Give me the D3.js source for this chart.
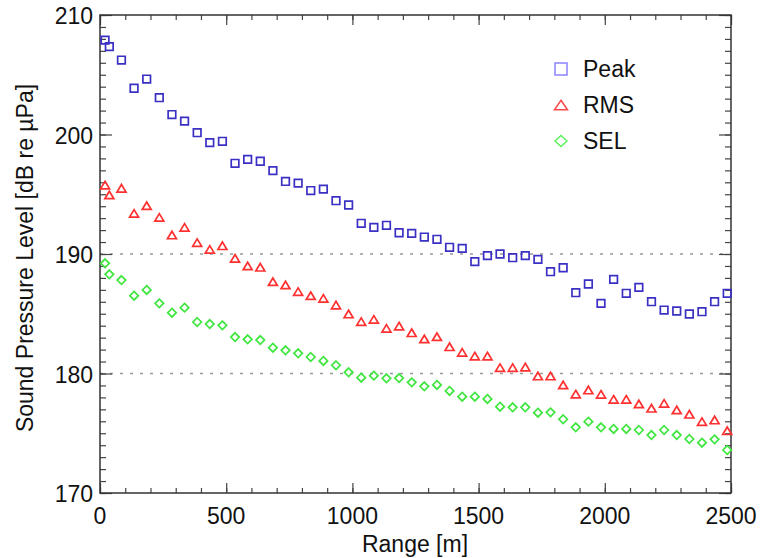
<!DOCTYPE html>
<html><head><meta charset="utf-8">
<script src="https://cdn.jsdelivr.net/npm/d3@7"></script>
<style>
body{margin:0;background:#fff;}
text{font-family:"Liberation Sans",Arial,Helvetica,sans-serif;fill:#111;}
</style></head>
<body><svg id="c" width="760" height="558"></svg>
<script>
const ranges = [20, 37, 85, 135, 185, 235, 285, 335, 385, 435, 485, 535, 585, 635, 685, 735, 785, 835, 885, 935, 985, 1035, 1085, 1135, 1185, 1235, 1285, 1335, 1385, 1435, 1485, 1535, 1585, 1635, 1685, 1735, 1785, 1835, 1885, 1935, 1985, 2035, 2085, 2135, 2185, 2235, 2285, 2335, 2385, 2435, 2485];
const peak = [207.9,207.35,206.23,203.87,204.64,203.08,201.67,201.12,200.15,199.32,199.43,197.59,197.92,197.76,196.98,196.07,195.93,195.31,195.43,194.46,194.1,192.57,192.23,192.4,191.78,191.73,191.42,191.23,190.56,190.47,189.36,189.86,190.0,189.69,189.86,189.55,188.52,188.85,186.76,187.49,185.87,187.88,186.71,187.21,186.01,185.31,185.23,184.98,185.17,186.01,186.71];
const rms = [195.77,194.94,195.5,193.4,194.04,193.07,191.59,192.23,190.95,190.39,190.69,189.64,189.0,188.89,187.68,187.41,186.85,186.51,186.29,185.73,184.98,184.34,184.53,183.78,183.97,183.41,182.89,183.08,182.24,181.77,181.46,181.46,180.49,180.49,180.54,179.79,179.79,179.04,178.28,178.62,178.26,177.84,177.84,177.45,177.09,177.5,176.95,176.59,175.97,176.11,175.21];
const sel = [189.22,188.3,187.82,186.51,186.99,185.87,185.09,185.51,184.31,184.14,184.03,183.05,182.86,182.8,182.16,181.94,181.69,181.38,181.05,180.69,180.1,179.65,179.82,179.6,179.62,179.26,178.93,179.04,178.54,178.06,178.06,177.87,177.22,177.17,177.17,176.72,176.75,176.17,175.5,175.97,175.5,175.36,175.36,175.27,174.85,175.27,174.85,174.52,174.21,174.49,173.6];
const seriesNames = ["Peak","RMS","SEL"];
const xTicks = [0,500,1000,1500,2000,2500];
const yTicks = [170,180,190,200,210];
const gridLevels = [180,190];

const svg = d3.select("#c");
const L=100,R=731,T=15,B=493;
const x = d3.scaleLinear().domain([0,2500]).range([L,R]);
const y = d3.scaleLinear().domain([170,210]).range([B,T]);
const axisColor="#333";

svg.selectAll("line.grid").data(gridLevels).enter().append("line")
  .attr("x1",L).attr("x2",R).attr("y1",d=>y(d)).attr("y2",d=>y(d))
  .attr("stroke","#999").attr("stroke-width",1.6).attr("stroke-dasharray","3,7");

const xMinor = d3.range(0,2501,100);
const yMinor = d3.range(170,211,1);
const gs = [
  svg.append("g").attr("transform",`translate(0,${B})`).call(d3.axisTop(x).tickValues(xMinor).tickSize(5).tickFormat("")),
  svg.append("g").attr("transform",`translate(0,${B})`).call(d3.axisTop(x).tickValues(xTicks).tickSize(10).tickFormat("")),
  svg.append("g").attr("transform",`translate(0,${T})`).call(d3.axisBottom(x).tickValues(xMinor).tickSize(5).tickFormat("")),
  svg.append("g").attr("transform",`translate(0,${T})`).call(d3.axisBottom(x).tickValues(xTicks).tickSize(10).tickFormat("")),
  svg.append("g").attr("transform",`translate(${L},0)`).call(d3.axisRight(y).tickValues(yMinor).tickSize(6).tickFormat("")),
  svg.append("g").attr("transform",`translate(${L},0)`).call(d3.axisRight(y).tickValues(yTicks).tickSize(12).tickFormat("")),
  svg.append("g").attr("transform",`translate(${R},0)`).call(d3.axisLeft(y).tickValues(yMinor).tickSize(6).tickFormat("")),
  svg.append("g").attr("transform",`translate(${R},0)`).call(d3.axisLeft(y).tickValues(yTicks).tickSize(12).tickFormat(""))
];
gs.forEach(g=>{
  g.select(".domain").remove();
  g.selectAll("line").attr("stroke","#444").attr("stroke-width",1.2);
});
svg.append("rect").attr("x",L).attr("y",T).attr("width",R-L).attr("height",B-T)
  .attr("fill","none").attr("stroke",axisColor).attr("stroke-width",1.5);

svg.selectAll("text.xl").data(xTicks).enter().append("text")
  .attr("x",d=>x(d)).attr("y",524).attr("text-anchor","middle")
  .style("font-size","23px").text(d=>d);
svg.selectAll("text.yl").data(yTicks).enter().append("text")
  .attr("x",93).attr("y",d=>y(d)+9).attr("text-anchor","end")
  .style("font-size","23px").text(d=>d);
svg.append("text").attr("x",415).attr("y",552).attr("text-anchor","middle")
  .style("font-size","23px").text("Range [m]");
svg.append("text").attr("transform","translate(33,258) rotate(-90)")
  .attr("text-anchor","middle").style("font-size","23px")
  .text("Sound Pressure Level [dB re \u00b5Pa]");

const colors = {Peak:"#3b30c4", RMS:"#ff3030", SEL:"#3ee63e"};
const legendColors = {Peak:"#8c84ff", RMS:"#ff4848", SEL:"#5cf05c"};
function square(s){return `M${-s},${-s}H${s}V${s}H${-s}Z`;}
function triangle(w,h){return `M0,${-h/2}L${w/2},${h/2}L${-w/2},${h/2}Z`;}
function diamond(w,h){return `M0,${-h/2}L${w/2},0L0,${h/2}L${-w/2},0Z`;}
const shapes = {Peak:square(3.8), RMS:triangle(9,7.5), SEL:diamond(8.5,8.5)};
const legShapes = {Peak:square(6), RMS:triangle(13,9.5), SEL:diamond(12,11)};
const dataMap = {Peak:peak, RMS:rms, SEL:sel};

seriesNames.forEach(name=>{
  const vals = dataMap[name];
  svg.append("g").selectAll("path").data(ranges.map((r,i)=>[r,vals[i]])).enter()
    .append("path")
    .attr("transform",d=>`translate(${x(d[0])},${y(d[1])})`)
    .attr("d",shapes[name])
    .attr("fill","none").attr("stroke",colors[name]).attr("stroke-width",1.7);
});

const legY = [69,105,141];
const lg = svg.append("g");
seriesNames.forEach((name,i)=>{
  lg.append("path").attr("transform",`translate(561,${legY[i]})`)
    .attr("d",legShapes[name]).attr("fill","none").attr("stroke",legendColors[name]).attr("stroke-width",1.5);
  lg.append("text").attr("x",583).attr("y",legY[i]+8).style("font-size","23px").text(name);
});
</script></body></html>
